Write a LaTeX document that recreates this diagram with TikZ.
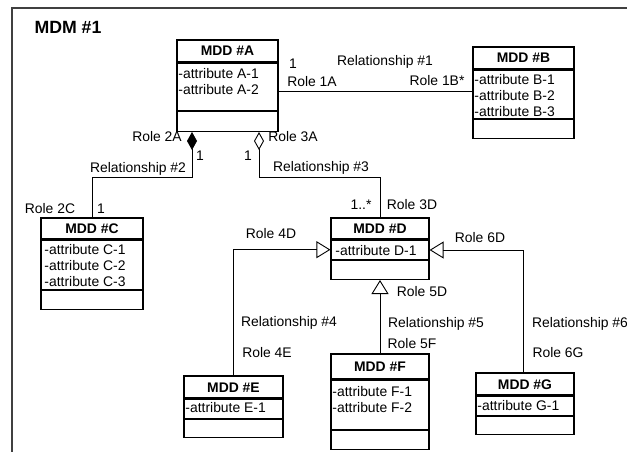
\documentclass[tikz,border=0pt]{standalone}
\usepackage{fontspec}
\setmainfont{Liberation Sans}
\usetikzlibrary{arrows.meta}

\begin{document}
\begin{tikzpicture}[x=1pt,y=-1pt,
	font=\fontsize{13.9}{16}\selectfont,
	line width=0.9pt,
	hdr/.style={draw,line width=1.2pt,minimum width=#1,inner sep=0pt,text height=10pt,text depth=0pt,font=\fontsize{13.9}{16}\selectfont\bfseries},
	cmp/.style={draw,line width=1.2pt,minimum width=#1,inner sep=0pt,anchor=north},
	attr/.style={align=left,anchor=north west,inner sep=0pt},
	lbl/.style={inner sep=0pt,text height=10pt,text depth=0pt},
	comp/.style={{Diamond[length=18pt,width=10pt]}-},
	aggr/.style={{Diamond[open,length=18pt,width=10pt]}-},
	gen/.style={-{Triangle[open,length=14pt,width=17pt]}}]
			\useasboundingbox (0,0) rectangle (627,452);
			\draw[line width=1.2pt,black!75] (12,452) -- (12,8) -- (627,8);
			\node[lbl,font=\fontsize{17.7}{20}\selectfont\bfseries,text height=12.7pt] (mdm) at (68,27) {MDM \#1};

			\node[hdr=101,minimum height=22] (A) at (227.5,51) {MDD \#A};
			\node[cmp=101,minimum height=47] (Aat) at (A.south) {};
			\node[cmp=101,minimum height=20] (Aop) at (Aat.south) {};
			\node[attr] (Atx) at (178,68) {-attribute A-1\\-attribute A-2};

			\node[hdr=101,minimum height=22] (B) at (523.5,58) {MDD \#B};
			\node[cmp=101,minimum height=48] (Bat) at (B.south) {};
			\node[cmp=101,minimum height=19] (Bop) at (Bat.south) {};
			\node[attr] (Btx) at (474,74) {-attribute B-1\\-attribute B-2\\-attribute B-3};

			\node[hdr=102,minimum height=21] (C) at (92,228.5) {MDD \#C};
			\node[cmp=102,minimum height=49] (Cat) at (C.south) {};
			\node[cmp=102,minimum height=19] (Cop) at (Cat.south) {};
			\node[attr] (Ctx) at (44,244) {-attribute C-1\\-attribute C-2\\-attribute C-3};

			\node[hdr=98,minimum height=21] (D) at (380,228.5) {MDD \#D};
			\node[cmp=98,minimum height=19] (Dat) at (D.south) {};
			\node[cmp=98,minimum height=19] (Dop) at (Dat.south) {};
			\node[attr] (Dtx) at (335,245) {-attribute D-1};

			\node[hdr=99,minimum height=22] (E) at (233.5,387) {MDD \#E};
			\node[cmp=99,minimum height=19] (Eat) at (E.south) {};
			\node[cmp=99,minimum height=18] (Eop) at (Eat.south) {};
			\node[attr] (Etx) at (185,402) {-attribute E-1};

			\node[hdr=98,minimum height=25] (F) at (380,366.5) {MDD \#F};
			\node[cmp=98,minimum height=49] (Fat) at (F.south) {};
			\node[cmp=98,minimum height=19] (Fop) at (Fat.south) {};
			\node[attr] (Ftx) at (332,386) {-attribute F-1\\-attribute F-2};

			\node[hdr=98,minimum height=22] (G) at (525,384) {MDD \#G};
			\node[cmp=98,minimum height=19] (Gat) at (G.south) {};
			\node[cmp=98,minimum height=18] (Gop) at (Gat.south) {};
			\node[attr] (Gtx) at (477,400) {-attribute G-1};

			\draw (Aat.east |- 0,91) -- (Bat.west |- 0,91);
			\draw[comp] (Aop.south -| 192,0) -- (192,177) -| (C.north);
			\draw[aggr] (Aop.south -| 259,0) -- (259,177) -| (D.north);
			\draw[gen] (E.north) |- (Dat.west);
			\draw[gen] (F.north) -- (Dop.south);
			\draw[gen] (G.north -| 523,0) |- (Dat.east |- 0,250);

			\node[lbl] (m1a) at (293,64) {1};
			\node[lbl] (r1a) at (312,82) {Role 1A};
			\node[lbl] (rel1) at (385,61) {Relationship \#1};
			\node[lbl] (r1b) at (437,81) {Role 1B*};
			\node[lbl] (r2a) at (157,137) {Role 2A};
			\node[lbl] (r3a) at (293,137) {Role 3A};
			\node[lbl] (m2a) at (200,155) {1};
			\node[lbl] (m3a) at (248,155) {1};
			\node[lbl] (rel2) at (138,167) {Relationship \#2};
			\node[lbl] (rel3) at (321,166) {Relationship \#3};
			\node[lbl] (r2c) at (50,208) {Role 2C};
			\node[lbl] (m2c) at (101,208) {1};
			\node[lbl] (m3d) at (361,204) {1..*};
			\node[lbl] (r3d) at (412,204) {Role 3D};
			\node[lbl] (r4d) at (271,233) {Role 4D};
			\node[lbl] (r6d) at (480,237) {Role 6D};
			\node[lbl] (r5d) at (422,291) {Role 5D};
			\node[lbl] (rel4) at (289,321) {Relationship \#4};
			\node[lbl] (rel5) at (436,322) {Relationship \#5};
			\node[lbl] (rel6) at (580,322) {Relationship \#6};
			\node[lbl] (r4e) at (267,352) {Role 4E};
			\node[lbl] (r5f) at (412,343) {Role 5F};
			\node[lbl] (r6g) at (558,352) {Role 6G};
		\end{tikzpicture}
\end{document}
